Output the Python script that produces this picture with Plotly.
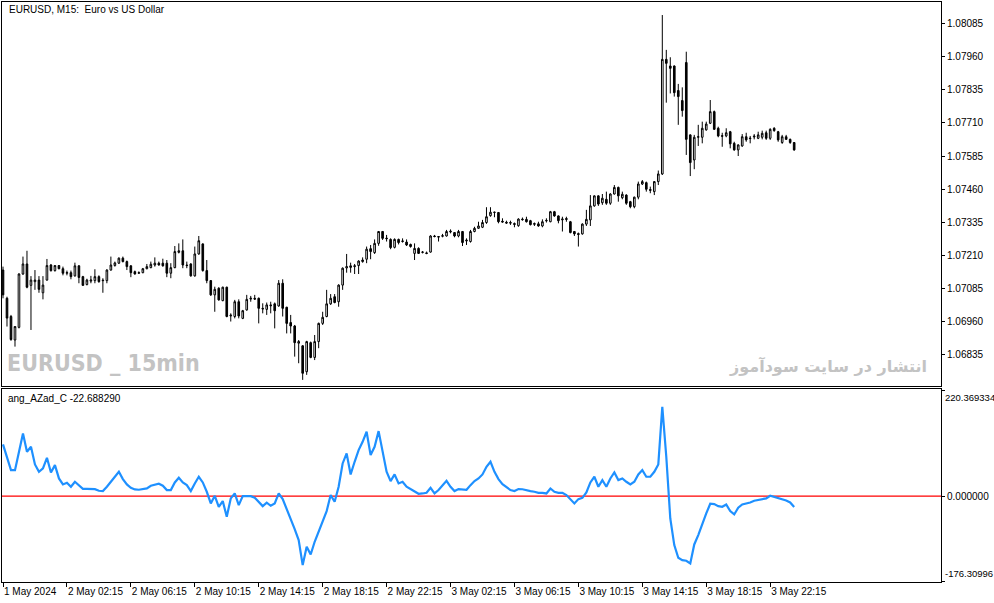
import pandas as pd
import plotly.graph_objects as go

# ---------------- data ----------------
times = pd.date_range("2024-05-01 22:15", periods=199, freq="15min").strftime("%Y-%m-%d %H:%M").tolist()

open_ = [
    1.07153, 1.07046, 1.06977, 1.06888, 1.06936, 1.07138, 1.07176, 1.07095, 1.07109, 1.07115,
    1.07067, 1.07115, 1.07172, 1.07151, 1.07170, 1.07158, 1.07141, 1.07143, 1.07131, 1.07169,
    1.07128, 1.07098, 1.07111, 1.07113, 1.07128, 1.07115, 1.07113, 1.07153, 1.07170, 1.07179,
    1.07198, 1.07185, 1.07169, 1.07147, 1.07141, 1.07143, 1.07158, 1.07162, 1.07172, 1.07179,
    1.07179, 1.07179, 1.07141, 1.07162, 1.07220, 1.07226, 1.07172, 1.07176, 1.07131, 1.07214,
    1.07252, 1.07151, 1.07113, 1.07059, 1.07084, 1.07037, 1.07088, 1.06979, 1.06977, 1.07033,
    1.06970, 1.07002, 1.07043, 1.07046, 1.07046, 1.07008, 1.07004, 1.07021, 1.07025, 1.07017,
    1.07103, 1.07012, 1.06954, 1.06941, 1.06876, 1.06866, 1.06768, 1.06878, 1.06822, 1.06882,
    1.06951, 1.06977, 1.07025, 1.07052, 1.07033, 1.07096, 1.07161, 1.07163, 1.07166, 1.07170,
    1.07185, 1.07194, 1.07234, 1.07219, 1.07254, 1.07299, 1.07274, 1.07269, 1.07239, 1.07269,
    1.07261, 1.07259, 1.07250, 1.07216, 1.07235, 1.07220, 1.07218, 1.07221, 1.07282, 1.07280,
    1.07281, 1.07282, 1.07297, 1.07295, 1.07282, 1.07299, 1.07263, 1.07261, 1.07299, 1.07311,
    1.07315, 1.07333, 1.07359, 1.07371, 1.07371, 1.07338, 1.07334, 1.07333, 1.07329, 1.07321,
    1.07346, 1.07345, 1.07340, 1.07326, 1.07328, 1.07320, 1.07339, 1.07336, 1.07374, 1.07358,
    1.07343, 1.07348, 1.07336, 1.07299, 1.07291, 1.07290, 1.07327, 1.07343, 1.07396, 1.07434,
    1.07408, 1.07421, 1.07406, 1.07441, 1.07466, 1.07427, 1.07437, 1.07412, 1.07393, 1.07429,
    1.07479, 1.07484, 1.07458, 1.07450, 1.07488, 1.07517, 1.07951, 1.07926, 1.07926, 1.07833,
    1.07795, 1.07939, 1.07665, 1.07570, 1.07656, 1.07656, 1.07684, 1.07709, 1.07753, 1.07690,
    1.07662, 1.07661, 1.07677, 1.07633, 1.07608, 1.07623, 1.07658, 1.07653, 1.07657, 1.07652,
    1.07656, 1.07673, 1.07652, 1.07690, 1.07677, 1.07636, 1.07658, 1.07648, 1.07636,
]

high = [
    1.07166, 1.07052, 1.06983, 1.06941, 1.07141, 1.07204, 1.07226, 1.07130, 1.07153, 1.07130,
    1.07130, 1.07195, 1.07176, 1.07172, 1.07172, 1.07166, 1.07151, 1.07151, 1.07181, 1.07171,
    1.07131, 1.07120, 1.07131, 1.07156, 1.07133, 1.07122, 1.07156, 1.07204, 1.07185, 1.07201,
    1.07204, 1.07189, 1.07171, 1.07151, 1.07148, 1.07161, 1.07176, 1.07185, 1.07201, 1.07185,
    1.07196, 1.07191, 1.07179, 1.07244, 1.07254, 1.07269, 1.07185, 1.07179, 1.07242, 1.07282,
    1.07254, 1.07191, 1.07115, 1.07090, 1.07088, 1.07090, 1.07090, 1.06989, 1.07040, 1.07042,
    1.07002, 1.07059, 1.07055, 1.07059, 1.07049, 1.07027, 1.07030, 1.07033, 1.07030, 1.07115,
    1.07118, 1.07014, 1.06983, 1.06945, 1.06888, 1.06869, 1.06885, 1.06882, 1.06907, 1.06954,
    1.06995, 1.07078, 1.07062, 1.07062, 1.07099, 1.07163, 1.07214, 1.07181, 1.07176, 1.07190,
    1.07201, 1.07242, 1.07248, 1.07269, 1.07301, 1.07301, 1.07286, 1.07273, 1.07273, 1.07272,
    1.07273, 1.07269, 1.07253, 1.07254, 1.07239, 1.07225, 1.07223, 1.07285, 1.07286, 1.07282,
    1.07290, 1.07305, 1.07307, 1.07297, 1.07305, 1.07301, 1.07273, 1.07305, 1.07317, 1.07336,
    1.07343, 1.07391, 1.07391, 1.07374, 1.07373, 1.07349, 1.07340, 1.07340, 1.07333, 1.07349,
    1.07352, 1.07355, 1.07343, 1.07333, 1.07336, 1.07345, 1.07349, 1.07377, 1.07377, 1.07360,
    1.07355, 1.07355, 1.07339, 1.07301, 1.07295, 1.07330, 1.07381, 1.07437, 1.07436, 1.07436,
    1.07441, 1.07450, 1.07444, 1.07475, 1.07469, 1.07450, 1.07440, 1.07415, 1.07431, 1.07488,
    1.07494, 1.07488, 1.07469, 1.07490, 1.07530, 1.08119, 1.07987, 1.07959, 1.07928, 1.07858,
    1.07845, 1.07980, 1.07667, 1.07665, 1.07703, 1.07715, 1.07715, 1.07797, 1.07757, 1.07696,
    1.07673, 1.07690, 1.07680, 1.07639, 1.07629, 1.07668, 1.07673, 1.07661, 1.07668, 1.07677,
    1.07681, 1.07681, 1.07690, 1.07694, 1.07680, 1.07665, 1.07665, 1.07651, 1.07638,
]

low = [
    1.07046, 1.06939, 1.06885, 1.06863, 1.06932, 1.07135, 1.07084, 1.06926, 1.07078, 1.07067,
    1.07042, 1.07113, 1.07147, 1.07147, 1.07156, 1.07133, 1.07133, 1.07118, 1.07128, 1.07103,
    1.07093, 1.07095, 1.07103, 1.07103, 1.07105, 1.07067, 1.07103, 1.07151, 1.07166, 1.07176,
    1.07182, 1.07153, 1.07126, 1.07136, 1.07138, 1.07141, 1.07156, 1.07160, 1.07166, 1.07170,
    1.07166, 1.07126, 1.07122, 1.07160, 1.07216, 1.07160, 1.07160, 1.07128, 1.07128, 1.07211,
    1.07147, 1.07103, 1.07055, 1.06995, 1.07037, 1.07035, 1.06974, 1.06958, 1.06970, 1.06970,
    1.06967, 1.06999, 1.07033, 1.07040, 1.06951, 1.06989, 1.06983, 1.06989, 1.06932, 1.07014,
    1.06977, 1.06913, 1.06913, 1.06825, 1.06800, 1.06737, 1.06756, 1.06819, 1.06812, 1.06857,
    1.06945, 1.06974, 1.07021, 1.07027, 1.07014, 1.07078, 1.07143, 1.07143, 1.07138, 1.07138,
    1.07181, 1.07179, 1.07194, 1.07214, 1.07245, 1.07267, 1.07261, 1.07232, 1.07235, 1.07250,
    1.07257, 1.07244, 1.07238, 1.07191, 1.07214, 1.07216, 1.07213, 1.07219, 1.07277, 1.07261,
    1.07277, 1.07280, 1.07292, 1.07277, 1.07277, 1.07244, 1.07248, 1.07257, 1.07296, 1.07309,
    1.07312, 1.07328, 1.07355, 1.07353, 1.07330, 1.07333, 1.07328, 1.07324, 1.07315, 1.07317,
    1.07340, 1.07333, 1.07322, 1.07320, 1.07317, 1.07315, 1.07333, 1.07334, 1.07355, 1.07330,
    1.07299, 1.07336, 1.07292, 1.07282, 1.07242, 1.07287, 1.07320, 1.07320, 1.07393, 1.07396,
    1.07400, 1.07400, 1.07400, 1.07439, 1.07412, 1.07421, 1.07400, 1.07387, 1.07387, 1.07421,
    1.07475, 1.07450, 1.07444, 1.07437, 1.07475, 1.07513, 1.07787, 1.07822, 1.07810, 1.07703,
    1.07734, 1.07589, 1.07509, 1.07535, 1.07623, 1.07633, 1.07681, 1.07706, 1.07684, 1.07656,
    1.07620, 1.07656, 1.07614, 1.07605, 1.07585, 1.07620, 1.07639, 1.07633, 1.07648, 1.07649,
    1.07648, 1.07646, 1.07646, 1.07677, 1.07639, 1.07631, 1.07646, 1.07631, 1.07605,
]

close = [
    1.07059, 1.06971, 1.06890, 1.06939, 1.07138, 1.07176, 1.07088, 1.07115, 1.07115, 1.07080,
    1.07096, 1.07170, 1.07151, 1.07170, 1.07158, 1.07141, 1.07143, 1.07128, 1.07169, 1.07125,
    1.07095, 1.07115, 1.07115, 1.07128, 1.07109, 1.07113, 1.07153, 1.07172, 1.07180, 1.07198,
    1.07185, 1.07166, 1.07143, 1.07138, 1.07143, 1.07158, 1.07166, 1.07175, 1.07179, 1.07172,
    1.07169, 1.07141, 1.07162, 1.07223, 1.07226, 1.07172, 1.07170, 1.07131, 1.07214, 1.07264,
    1.07151, 1.07113, 1.07059, 1.07080, 1.07040, 1.07088, 1.06977, 1.06982, 1.07033, 1.06979,
    1.06999, 1.07042, 1.07046, 1.07043, 1.07008, 1.07006, 1.07021, 1.07018, 1.06999, 1.07103,
    1.07008, 1.06951, 1.06941, 1.06878, 1.06882, 1.06762, 1.06882, 1.06822, 1.06882, 1.06951,
    1.06974, 1.07025, 1.07046, 1.07030, 1.07096, 1.07160, 1.07166, 1.07169, 1.07169, 1.07187,
    1.07191, 1.07232, 1.07223, 1.07254, 1.07299, 1.07273, 1.07272, 1.07238, 1.07269, 1.07257,
    1.07263, 1.07248, 1.07242, 1.07235, 1.07216, 1.07221, 1.07216, 1.07282, 1.07280, 1.07278,
    1.07283, 1.07299, 1.07300, 1.07282, 1.07299, 1.07257, 1.07266, 1.07299, 1.07311, 1.07320,
    1.07333, 1.07355, 1.07372, 1.07372, 1.07336, 1.07335, 1.07331, 1.07331, 1.07326, 1.07346,
    1.07344, 1.07336, 1.07325, 1.07329, 1.07320, 1.07336, 1.07341, 1.07374, 1.07358, 1.07340,
    1.07346, 1.07345, 1.07295, 1.07290, 1.07288, 1.07327, 1.07345, 1.07396, 1.07434, 1.07403,
    1.07425, 1.07406, 1.07441, 1.07466, 1.07434, 1.07440, 1.07406, 1.07393, 1.07429, 1.07479,
    1.07488, 1.07459, 1.07455, 1.07488, 1.07517, 1.07951, 1.07936, 1.07917, 1.07825, 1.07810,
    1.07757, 1.07648, 1.07560, 1.07656, 1.07658, 1.07690, 1.07706, 1.07753, 1.07686, 1.07661,
    1.07660, 1.07673, 1.07631, 1.07608, 1.07627, 1.07658, 1.07646, 1.07651, 1.07660, 1.07665,
    1.07671, 1.07652, 1.07686, 1.07681, 1.07646, 1.07658, 1.07648, 1.07636, 1.07608,
]

ang_azad = [
    107.3, 81.7, 54.0, 54.0, 94.2, 130.2, 92.1, 102.5, 65.8, 50.5,
    57.5, 79.6, 49.2, 64.4, 36.7, 24.2, 27.7, 19.4, 29.8, 22.8,
    15.2, 15.2, 15.0, 14.5, 11.1, 10.4, 19.4, 29.8, 39.5, 50.5,
    35.3, 24.2, 17.3, 13.8, 13.2, 13.8, 15.9, 21.5, 22.8, 25.6,
    21.5, 12.5, 12.5, 28.4, 38.1, 28.4, 22.8, 10.4, 26.3, 40.2,
    28.4, 9.0, -15.2, 0.7, -22.2, -10.4, -42.9, -4.8, 5.5, -18.7,
    0.0, 0.3, -0.2, -3.5, -13.2, -20.8, -13.8, -20.1, -15.2, 5.5,
    -6.2, -27.0, -45.0, -68.5, -91.4, -143.3, -105.2, -121.2, -94.8, -74.1,
    -53.3, -31.2, 2.1, -11.8, 19.4, 67.8, 88.6, 45.0, 71.3, 95.5,
    112.8, 133.6, 85.2, 102.5, 135.0, 95.5, 50.5, 31.2, 45.0, 26.3,
    29.8, 19.4, 14.5, 9.0, 4.8, 5.5, 6.9, 17.3, 5.5, 12.5,
    22.8, 31.8, 19.4, 10.4, 14.5, 13.8, 13.2, 22.8, 31.2, 36.7,
    45.0, 60.9, 71.3, 50.5, 35.3, 24.9, 19.4, 12.5, 10.4, 14.5,
    14.2, 11.8, 10.4, 9.0, 6.9, 6.7, 5.5, 15.9, 9.0, 6.9,
    6.9, 2.1, -6.2, -15.2, -6.2, -3.5, 7.6, 28.4, 40.2, 19.4,
    33.2, 19.4, 36.7, 49.2, 33.2, 36.7, 29.8, 24.2, 29.8, 45.0,
    54.0, 40.2, 40.2, 50.5, 65.8, 185.5, 81.7, -46.4, -101.8, -128.1,
    -132.9, -134.3, -139.8, -100.4, -81.0, -56.8, -36.0, -15.9, -16.6, -20.8,
    -22.2, -17.3, -31.2, -38.1, -24.2, -17.3, -15.9, -13.2, -9.7, -8.3,
    -5.5, -4.8, 0.7, -1.4, -4.8, -6.9, -9.0, -13.2, -22.688290,
]

price_ticks = [1.08085, 1.07960, 1.07835, 1.07710, 1.07585, 1.07460,
               1.07335, 1.07210, 1.07085, 1.06960, 1.06835]
price_tick_labels = ["1.08085", "1.07960", "1.07835", "1.07710", "1.07585", "1.07460",
                     "1.07335", "1.07210", "1.07085", "1.06960", "1.06835"]

ind_max = 220.369334
ind_min = -176.30996
ind_tick_labels = ["220.369334", "0.000000", "-176.30996"]

time_tick_index = [0, 16, 32, 48, 64, 80, 96, 112, 128, 144, 160, 176, 192]
time_tick_labels = ["1 May 2024", "2 May 02:15", "2 May 06:15", "2 May 10:15", "2 May 14:15",
                    "2 May 18:15", "2 May 22:15", "3 May 02:15", "3 May 06:15", "3 May 10:15",
                    "3 May 14:15", "3 May 18:15", "3 May 22:15"]

title_text = "EURUSD, M15:\u00a0 Euro vs US Dollar"
ind_label = "ang_AZad_C -22.688290"
wm_left = "EURUSD _ 15min"
wm_right = "انتشار در سایت سودآموز"

# ---------------- figure ----------------
FONT = "Liberation Sans, Arial, sans-serif"

fig = go.Figure()
fig.add_trace(go.Candlestick(
    x=times, open=open_, high=high, low=low, close=close,
    increasing=dict(line=dict(color="black", width=1), fillcolor="white"),
    decreasing=dict(line=dict(color="black", width=1), fillcolor="black"),
    whiskerwidth=0, xaxis="x", yaxis="y", showlegend=False, hoverinfo="skip",
))
fig.add_trace(go.Scatter(
    x=times, y=ang_azad, mode="lines",
    line=dict(color="#1E90FF", width=2.2),
    xaxis="x2", yaxis="y2", showlegend=False, hoverinfo="skip",
))

W, H = 994, 603
ml, mr, mt, mb = 2, 53, 2, 21
plot_h = H - mt - mb
def ypaper(py):
    return (H - mb - py) / plot_h

xr = [-0.25, 234.75]
axis_common = dict(showgrid=False, zeroline=False, showline=True, mirror=True,
                   linecolor="black", linewidth=1, automargin=False)

fig.update_layout(
    width=W, height=H,
    margin=dict(l=ml, r=mr, t=mt, b=mb, pad=0),
    paper_bgcolor="white", plot_bgcolor="white",
    font=dict(family=FONT, size=10, color="black"),
    hovermode=False,
    boxgap=0.42,
    xaxis=dict(domain=[0, 1], anchor="y", type="category", range=xr,
               showticklabels=False, ticks="", rangeslider=dict(visible=False),
               **axis_common),
    yaxis=dict(domain=[ypaper(386), 1], anchor="x", side="right",
               range=[1.067138, 1.081683],
               tickmode="array", tickvals=price_ticks, ticktext=price_tick_labels,
               ticks="outside", ticklen=3, tickcolor="black",
               tickfont=dict(family=FONT, size=10, color="black"),
               **axis_common),
    xaxis2=dict(domain=[0, 1], anchor="y2", type="category", range=xr,
                tickmode="array",
                tickvals=[times[i] for i in time_tick_index], ticktext=time_tick_labels,
                ticks="outside", ticklen=4, tickcolor="black", tickangle=0,
                ticklabelposition="outside right",
                tickfont=dict(family=FONT, size=10, color="black"),
                **axis_common),
    yaxis2=dict(domain=[0, ypaper(389)], anchor="x2", side="right",
                range=[-178.39, 222.45],
                tickmode="array", tickvals=[ind_max, 0, ind_min],
                ticktext=["", ind_tick_labels[1], ""],
                ticks="outside", ticklen=3, tickcolor="black",
                tickfont=dict(family=FONT, size=10, color="black"),
                **axis_common),
)

# zero level line in the indicator window
fig.add_shape(type="line", xref="x2 domain", x0=0, x1=1, yref="y2", y0=0, y1=0,
              line=dict(color="red", width=1.2), layer="below")

annos = [
    dict(text=title_text, x=(7 - ml) / 940, y=ypaper(9.5), xanchor="left", yanchor="middle",
         font=dict(family=FONT, size=10, color="black")),
    dict(text=ind_label, x=(6 - ml) / 940, y=ypaper(398), xanchor="left", yanchor="middle",
         font=dict(family=FONT, size=10, color="black")),
    dict(text=wm_left, x=(5 - ml) / 940, y=ypaper(363), xanchor="left", yanchor="middle",
         font=dict(family="DejaVu Sans Condensed, Liberation Sans Narrow, sans-serif",
                   size=23, color="#c3c3c3", weight="bold")),
    dict(text=wm_right, x=(930 - ml) / 940, y=ypaper(366), xanchor="right", yanchor="middle",
         font=dict(family="DejaVu Sans, Noto Sans, sans-serif", size=16, color="#c3c3c3",
                   weight="bold")),
    dict(text=ind_tick_labels[0], x=1, xshift=2, y=ypaper(390), xanchor="left", yanchor="top",
         font=dict(family=FONT, size=9.5, color="black")),
    dict(text=ind_tick_labels[2], x=1, xshift=2, y=ypaper(581), xanchor="left", yanchor="bottom",
         font=dict(family=FONT, size=9.5, color="black")),
]
for a in annos:
    fig.add_annotation(xref="paper", yref="paper", showarrow=False, **a)

fig.write_html("out.html",
               config={"displayModeBar": False, "staticPlot": True},
               post_script="document.body.style.margin='0px';document.body.style.overflow='hidden';")
